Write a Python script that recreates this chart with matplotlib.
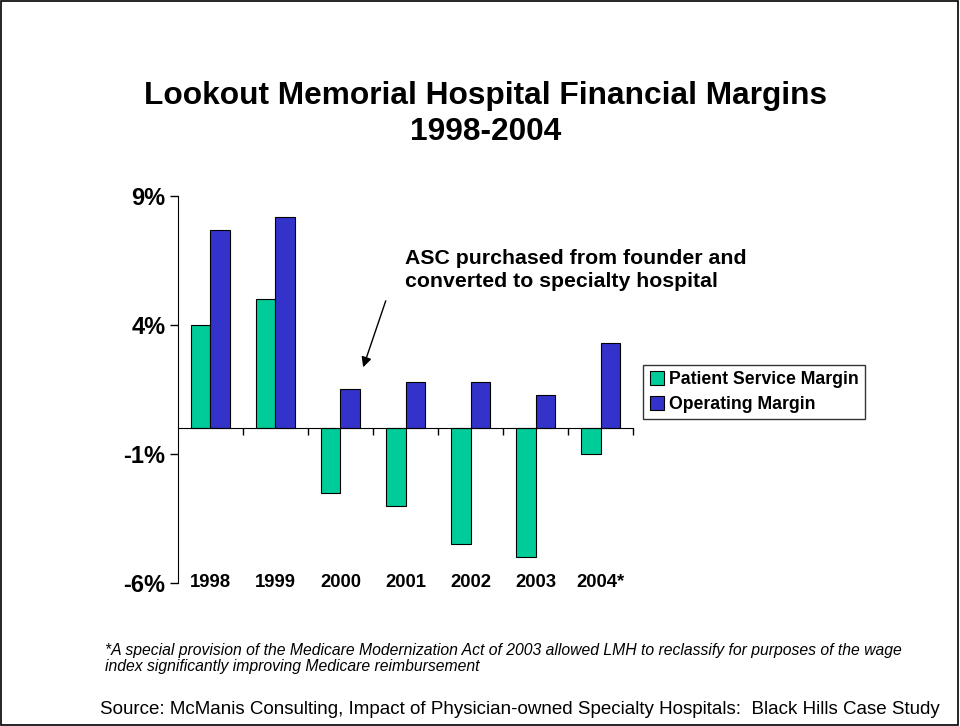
import matplotlib.pyplot as plt
from matplotlib.patches import Rectangle, Patch
import numpy as np

plt.rcParams['font.family'] = ['Liberation Sans', 'DejaVu Sans']

# data (percent)
years = ['1998', '1999', '2000', '2001', '2002', '2003', '2004*']
patient_service = [4.0, 5.0, -2.5, -3.0, -4.5, -5.0, -1.0]
operating = [7.7, 8.2, 1.5, 1.8, 1.8, 1.3, 3.3]
y_ticks = [-6, -1, 4, 9]

green = '#00CC99'
blue = '#3333CC'

fig = plt.figure(figsize=(9.6, 7.26), dpi=100)
ax = fig.add_axes([0.1854, 0.197, 0.4740, 0.533])

x = np.arange(len(years))
w = 0.3
ax.bar(x - w / 2, patient_service, w, color=green, edgecolor='black', linewidth=0.8,
       label='Patient Service Margin')
ax.bar(x + w / 2, operating, w, color=blue, edgecolor='black', linewidth=0.8,
       label='Operating Margin')

ax.set_xlim(-0.5, len(years) - 0.5)
ax.set_ylim(-6, 9)
ax.set_yticks(y_ticks)
ax.set_yticklabels([f'{t}%' for t in y_ticks], fontsize=17, fontweight='bold')
ax.tick_params(axis='y', direction='out', length=6, width=1, pad=3)

for s in ['top', 'right']:
    ax.spines[s].set_visible(False)
ax.spines['bottom'].set_position(('data', 0))
ax.set_xticks(x + 0.5)
ax.set_xticklabels([])
ax.tick_params(axis='x', direction='out', length=5, width=1)

# category labels along the bottom of the plot
for xi, lab in zip(x, years):
    ax.text(xi, -6, lab, ha='center', va='center', fontsize=13.3, fontweight='bold')

# title
fig.text(0.506, 0.843, 'Lookout Memorial Hospital Financial Margins\n1998-2004',
         ha='center', va='center', fontsize=22.8, fontweight='bold', linespacing=1.22)

# annotation
fig.text(0.422, 0.628, 'ASC purchased from founder and\nconverted to specialty hospital',
         ha='left', va='center', fontsize=15.3, fontweight='bold', linespacing=1.32)
ax.annotate('', xy=(2.335, 2.26), xytext=(2.71, 5.04),
            arrowprops=dict(arrowstyle='-|>', color='black', lw=1, mutation_scale=15))

# legend
handles = [Patch(facecolor=green, edgecolor='black', linewidth=0.8),
           Patch(facecolor=blue, edgecolor='black', linewidth=0.8)]
leg = fig.legend(handles, ['Patient Service Margin', 'Operating Margin'],
                 loc='center left', bbox_to_anchor=(0.661, 0.46), frameon=True,
                 fancybox=False, edgecolor='black', borderpad=0.35, handlelength=0.8,
                 handleheight=0.8, handletextpad=0.3, labelspacing=0.45,
                 prop={'weight': 'bold', 'size': 12.7})
leg.get_frame().set_linewidth(1)

# footnotes
fig.text(0.109, 0.093,
         '*A special provision of the Medicare Modernization Act of 2003 allowed LMH to reclassify for purposes of the wage\n'
         'index significantly improving Medicare reimbursement',
         ha='left', va='center', fontsize=11.3, style='italic', linespacing=1.15)
fig.text(0.104, 0.023,
         'Source: McManis Consulting, Impact of Physician-owned Specialty Hospitals:  Black Hills Case Study',
         ha='left', va='center', fontsize=13.5)

# frame round the slide
fig.patches.append(Rectangle((0.001, 0.001), 0.997, 0.997, transform=fig.transFigure,
                             fill=False, edgecolor='black', linewidth=1.2))

fig.savefig('out.png', dpi=100)
